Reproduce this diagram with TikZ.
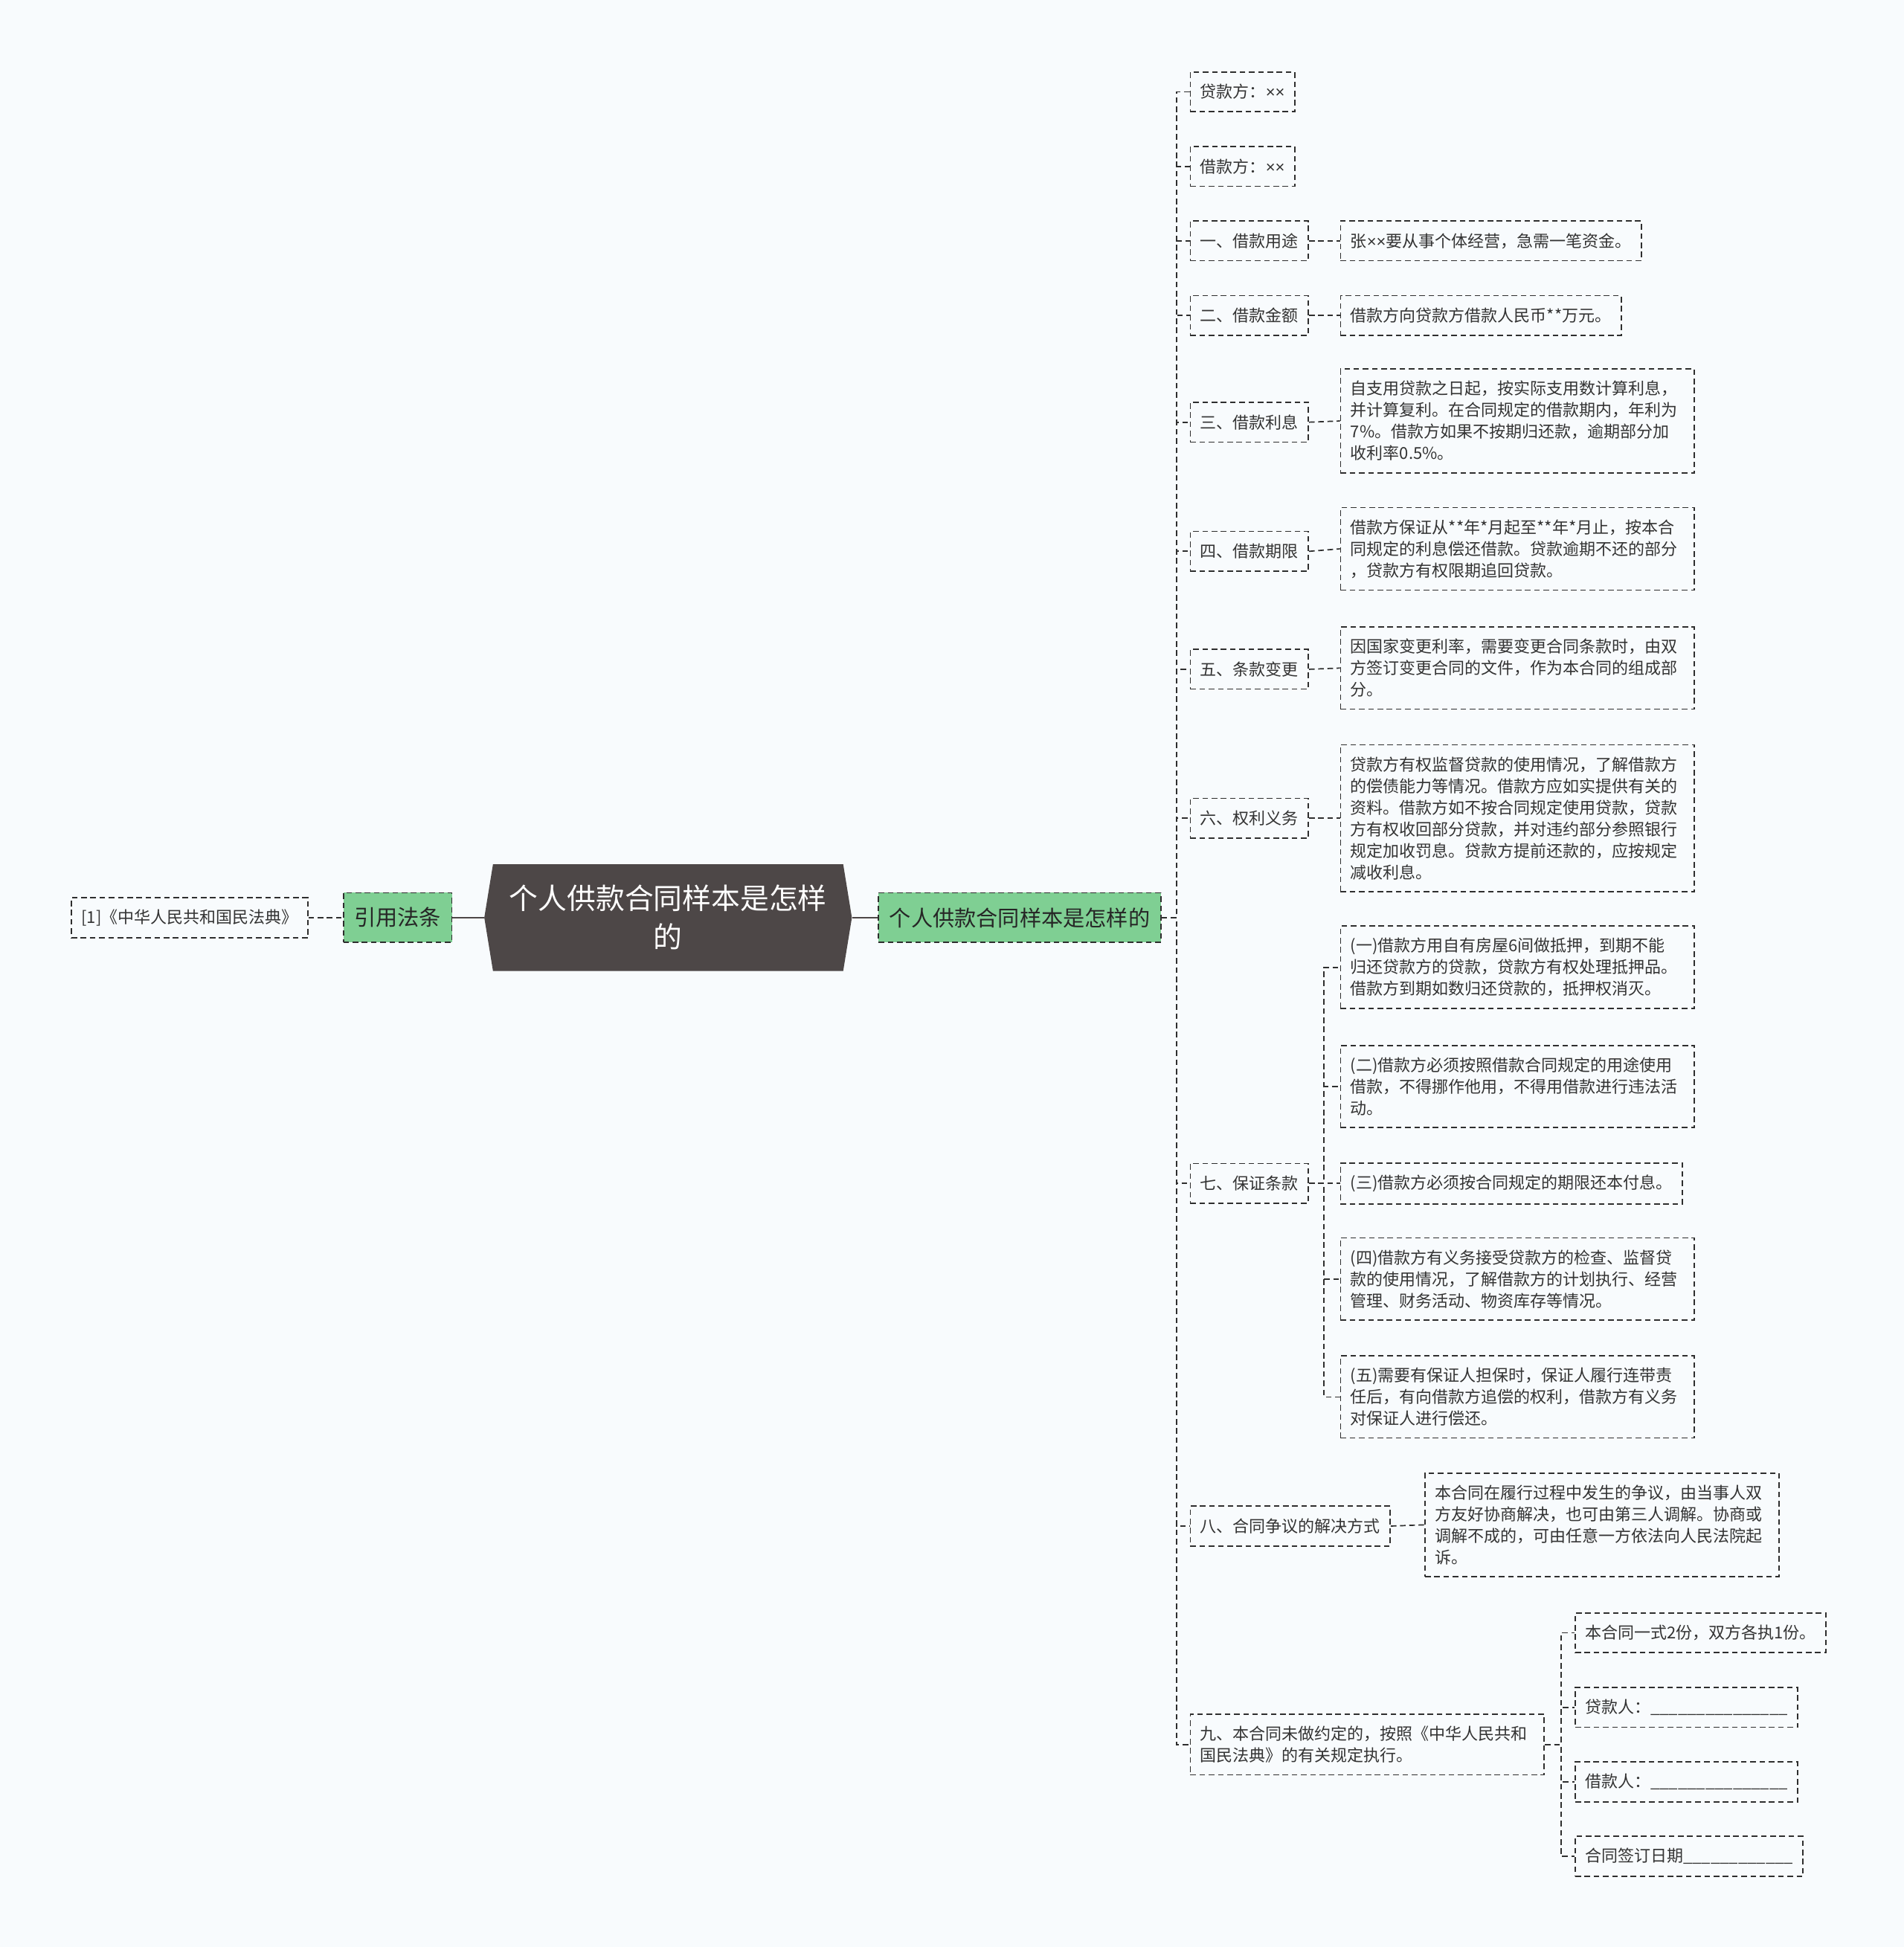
\documentclass[tikz,border=0pt]{standalone}
\usepackage{fontspec}
\setmainfont{Noto Sans CJK SC}
\newfontfamily\latinfont{Liberation Sans}
\usetikzlibrary{positioning}
\definecolor{bgc}{HTML}{F8FBFD}
\definecolor{linec}{HTML}{2E2E2E}
\definecolor{greenc}{HTML}{7FCF93}
\definecolor{rootc}{HTML}{4D4747}
\definecolor{textc}{HTML}{333333}
\newcommand{\tms}{{\latinfont ×}} % small multiplication sign
\tikzset{
box/.style={ % Dashed box of a branch
draw=linec,
line width=0.85pt,
dash pattern=on 3.8pt off 2.4pt,
text=textc,
font=\fontsize{11pt}{14.5pt}\selectfont,
align=left,
inner xsep=6.7pt,
inner ysep=8pt,
minimum height=26.7pt,
anchor=west},
wide/.style={box, text width=224.6pt}, % Boxes with several lines
tag/.style={box, fill=greenc, text=black!85, % Green topics
font=\fontsize{14.6pt}{18pt}\selectfont,
inner xsep=7.3pt,
minimum height=33.4pt},
link/.style={draw=linec, line width=0.85pt, dash pattern=on 3.8pt off 2.4pt},
elbow/.style={to path={-- ++(#1,0) |- (\tikztotarget)}},
elbow/.default=12}

\begin{document}
\begin{tikzpicture}[x=0.835pt,y=-0.835pt]
  \fill[bgc] (0,0) rectangle (1533,1568);
  \useasboundingbox (0,0) rectangle (1533,1568);
  % root
  \fill[rootc] (397,696) -- (679,696) -- (686,739) -- (679,782) -- (397,782) -- (390,739) -- cycle;
  \node[text=white, align=center, minimum width=247pt, minimum height=72pt, inner sep=0pt,
        font=\fontsize{19.4pt}{26pt}\selectfont] (root) at (538,739) {个人供款合同样本是怎样\\的};
  % left side
  \node[tag]  (cite) at (276,739) {引用法条};
  \node[box]  (law)  at (57,739)  {[1]《中华人民共和国民法典》};
  % right side
  \node[tag]  (main) at (707,739) {个人供款合同样本是怎样的};
  \node[box]  (a0) at (958,74)   {贷款方：\tms\tms};
  \node[box]  (a1) at (958,134)  {借款方：\tms\tms};
  \node[box]  (b1) at (958,194)  {一、借款用途};
  \node[box]  (b2) at (958,254)  {二、借款金额};
  \node[box]  (b3) at (958,340)  {三、借款利息};
  \node[box]  (b4) at (958,444)  {四、借款期限};
  \node[box]  (b5) at (958,539)  {五、条款变更};
  \node[box]  (b6) at (958,659)  {六、权利义务};
  \node[box]  (b7) at (958,953)  {七、保证条款};
  \node[box]  (b8) at (958,1229) {八、合同争议的解决方式};
  \node[wide] (b9) at (958,1405) {九、本合同未做约定的，按照《中华人民共和\\国民法典》的有关规定执行。};
  \node[box]  (c1) at (1079,194) {张\tms\tms 要从事个体经营，急需一笔资金。};
  \node[box]  (c2) at (1079,254) {借款方向贷款方借款人民币**万元。};
  \node[wide] (c3) at (1079,339) {自支用贷款之日起，按实际支用数计算利息，\\并计算复利。在合同规定的借款期内，年利为\\7\%。借款方如果不按期归还款，逾期部分加\\收利率0.5\%。};
  \node[wide] (c4) at (1079,442) {借款方保证从**年*月起至**年*月止，按本合\\同规定的利息偿还借款。贷款逾期不还的部分\\，贷款方有权限期追回贷款。};
  \node[wide] (c5) at (1079,538) {因国家变更利率，需要变更合同条款时，由双\\方签订变更合同的文件，作为本合同的组成部\\分。};
  \node[wide] (c6) at (1079,659) {贷款方有权监督贷款的使用情况，了解借款方\\的偿债能力等情况。借款方应如实提供有关的\\资料。借款方如不按合同规定使用贷款，贷款\\方有权收回部分贷款，并对违约部分参照银行\\规定加收罚息。贷款方提前还款的，应按规定\\减收利息。};
  \node[wide] (d1) at (1079,779)  {(一)借款方用自有房屋6间做抵押，到期不能\\归还贷款方的贷款，贷款方有权处理抵押品。\\借款方到期如数归还贷款的，抵押权消灭。};
  \node[wide] (d2) at (1079,875)  {(二)借款方必须按照借款合同规定的用途使用\\借款，不得挪作他用，不得用借款进行违法活\\动。};
  \node[box]  (d3) at (1079,953)  {(三)借款方必须按合同规定的期限还本付息。};
  \node[wide] (d4) at (1079,1030) {(四)借款方有义务接受贷款方的检查、监督贷\\款的使用情况，了解借款方的计划执行、经营\\管理、财务活动、物资库存等情况。};
  \node[wide] (d5) at (1079,1125) {(五)需要有保证人担保时，保证人履行连带责\\任后，有向借款方追偿的权利，借款方有义务\\对保证人进行偿还。};
  \node[wide] (c8) at (1147,1228) {本合同在履行过程中发生的争议，由当事人双\\方友好协商解决，也可由第三人调解。协商或\\调解不成的，可由任意一方依法向人民法院起\\诉。};
  \node[box]  (e1) at (1268,1315) {本合同一式2份，双方各执1份。};
  \node[box]  (e2) at (1268,1375) {贷款人：\_\_\_\_\_\_\_\_\_\_\_\_\_\_\_};
  \node[box]  (e3) at (1268,1435) {借款人：\_\_\_\_\_\_\_\_\_\_\_\_\_\_\_};
  \node[box]  (e4) at (1268,1495) {合同签订日期\_\_\_\_\_\_\_\_\_\_\_\_};
  % connectors
  \draw[rootc, line width=1.2pt] (cite.east) -- (root.west)
                                 (root.east) -- (main.west);
  \path[link] (law.east) edge (cite.west)
              (main.east) edge[elbow] (a0.west) edge[elbow] (a1.west)
                          edge[elbow] (b1.west) edge[elbow] (b2.west)
                          edge[elbow] (b3.west) edge[elbow] (b4.west)
                          edge[elbow] (b5.west) edge[elbow] (b6.west)
                          edge[elbow] (b7.west) edge[elbow] (b8.west)
                          edge[elbow] (b9.west)
              (b1.east) edge (c1.west)
              (b2.east) edge (c2.west)
              (b3.east) edge (c3.west)
              (b4.east) edge (c4.west)
              (b5.east) edge (c5.west)
              (b6.east) edge (c6.west)
              (b7.east) edge[elbow] (d1.west) edge[elbow] (d2.west)
                        edge[elbow] (d3.west) edge[elbow] (d4.west)
                        edge[elbow] (d5.west)
              (b8.east) edge (c8.west)
              (b9.east) edge[elbow=13] (e1.west) edge[elbow=13] (e2.west)
                        edge[elbow=13] (e3.west) edge[elbow=13] (e4.west);
\end{tikzpicture}
\end{document}
